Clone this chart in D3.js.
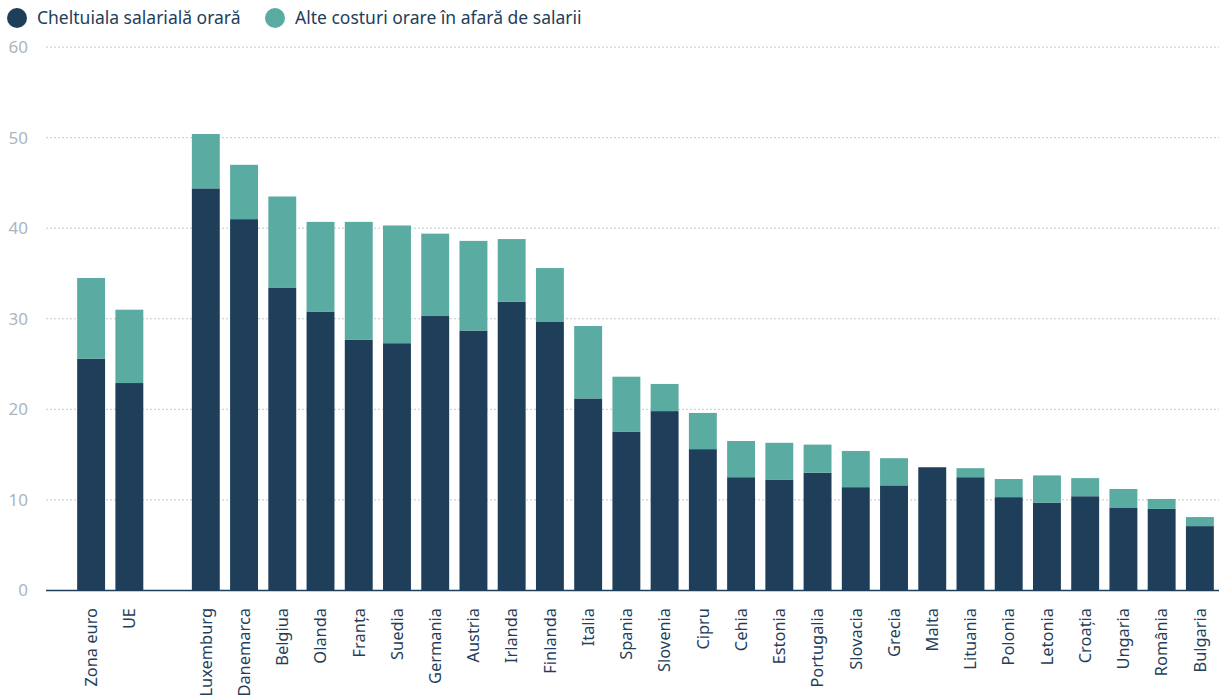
<!DOCTYPE html>
<html>
<head>
<meta charset="utf-8">
<script src="https://cdn.jsdelivr.net/npm/d3@7"></script>
<style>
    body { margin: 0; background: #fff; }
    svg { display: block; font-family: 'Noto Sans', sans-serif; }
    .tick-label { fill: #a9b6c2; font-size: 17px; }
    .cat-label { fill: #1f3e5a; font-size: 16.4px; }
    .legend-text { fill: #1f3e5a; font-size: 17.5px; }
</style>
</head>
<body>
<div id="chart"></div>
<script>
const countries = ['Zona euro', 'UE', 'Luxemburg', 'Danemarca', 'Belgiua', 'Olanda', 'Franța', 'Suedia',
    'Germania', 'Austria', 'Irlanda', 'Finlanda', 'Italia', 'Spania', 'Slovenia', 'Cipru', 'Cehia',
    'Estonia', 'Portugalia', 'Slovacia', 'Grecia', 'Malta', 'Lituania', 'Polonia', 'Letonia',
    'Croația', 'Ungaria', 'România', 'Bulgaria'];

// hourly wage cost
const wageCosts = [25.6, 22.9, 44.4, 41.0, 33.4, 30.8, 27.7, 27.3,
    30.3, 28.7, 31.9, 29.7, 21.2, 17.5, 19.8, 15.6, 12.5,
    12.2, 13.0, 11.4, 11.6, 13.6, 12.5, 10.3, 9.7,
    10.4, 9.1, 9.0, 7.1];

// other non-wage hourly costs
const otherCosts = [8.9, 8.1, 6.0, 6.0, 10.1, 9.9, 13.0, 13.0,
    9.1, 9.9, 6.9, 5.9, 8.0, 6.1, 3.0, 4.0, 4.0,
    4.1, 3.1, 4.0, 3.0, 0.0, 1.0, 2.0, 3.0,
    2.0, 2.1, 1.1, 1.0];

const yTicks = [0, 10, 20, 30, 40, 50, 60];

const seriesNames = ['Cheltuiala salarială orară', 'Alte costuri orare în afară de salarii'];
const seriesColors = ['#1f3e5a', '#5aaba1'];

const width = 1219, height = 697;
const spacer = ' ';

const svg = d3.select('#chart').append('svg')
    .attr('width', width)
    .attr('height', height);

// empty slot between the aggregates and the countries
const domain = countries.slice(0, 2).concat([spacer], countries.slice(2));

const x = d3.scaleBand()
    .domain(domain)
    .range([72, 1219])
    .paddingInner(0.27)
    .paddingOuter(0.135);

const y = d3.scaleLinear()
    .domain([0, 60])
    .range([590.4, 47.1]);

// Grid lines
svg.append('g')
    .selectAll('line')
    .data(yTicks.filter(d => d > 0))
    .join('line')
    .attr('x1', 46)
    .attr('x2', width)
    .attr('y1', d => y(d))
    .attr('y2', d => y(d))
    .attr('stroke', '#c3c9cf')
    .attr('stroke-width', 1)
    .attr('stroke-dasharray', '2,2');

// Y tick labels
svg.append('g')
    .selectAll('text')
    .data(yTicks)
    .join('text')
    .attr('class', 'tick-label')
    .attr('x', 28)
    .attr('y', d => y(d))
    .attr('dy', '0.35em')
    .attr('text-anchor', 'end')
    .text(d => d);

// Stacked bars
const rows = countries.map((c, i) => ({ country: c, wage: wageCosts[i], other: otherCosts[i] }));
const stacked = d3.stack().keys(['wage', 'other'])(rows);

svg.append('g')
    .selectAll('g')
    .data(stacked)
    .join('g')
    .attr('fill', (d, i) => seriesColors[i])
    .selectAll('rect')
    .data(d => d.filter(p => p[1] > p[0]))
    .join('rect')
    .attr('x', d => x(d.data.country))
    .attr('width', x.bandwidth())
    .attr('y', d => y(d[1]))
    .attr('height', d => y(d[0]) - y(d[1]));

// Baseline
svg.append('line')
    .attr('x1', 46)
    .attr('x2', width)
    .attr('y1', y(0))
    .attr('y2', y(0))
    .attr('stroke', '#1f3e5a')
    .attr('stroke-width', 1.5);

// Category labels
svg.append('g')
    .selectAll('text')
    .data(countries)
    .join('text')
    .attr('class', 'cat-label')
    .attr('transform', d => `translate(${x(d) + x.bandwidth() / 2},608) rotate(-90)`)
    .attr('dy', '0.35em')
    .attr('text-anchor', 'end')
    .text(d => d);

// Legend
const legend = svg.append('g');
const legendX = [17, 275];
seriesNames.forEach((name, i) => {
    legend.append('circle')
        .attr('cx', legendX[i])
        .attr('cy', 18)
        .attr('r', 10)
        .attr('fill', seriesColors[i]);
    legend.append('text')
        .attr('class', 'legend-text')
        .attr('x', legendX[i] + 20)
        .attr('y', 18)
        .attr('dy', '0.35em')
        .text(name);
});
</script>
</body>
</html>
